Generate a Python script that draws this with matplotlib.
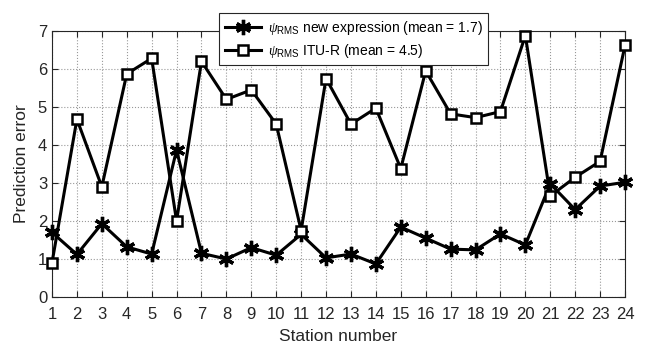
import numpy as np
import matplotlib.pyplot as plt

plt.rcParams['font.family'] = ['Liberation Sans', 'DejaVu Sans']
plt.rcParams['mathtext.fontset'] = 'custom'
plt.rcParams['mathtext.rm'] = 'Liberation Sans'
plt.rcParams['mathtext.it'] = 'Liberation Serif:italic'
plt.rcParams['mathtext.default'] = 'it'

stations = np.arange(1, 25)
psi_new = [1.70, 1.12, 1.93, 1.32, 1.13, 3.87, 1.15, 1.00, 1.30, 1.10, 1.65, 1.03,
           1.13, 0.87, 1.84, 1.55, 1.26, 1.24, 1.66, 1.37, 2.98, 2.30, 2.92, 3.02]
psi_itu = [0.90, 4.68, 2.90, 5.87, 6.28, 2.00, 6.20, 5.20, 5.45, 4.55, 1.75, 5.75,
           4.55, 4.97, 3.38, 5.95, 4.82, 4.72, 4.88, 6.88, 2.66, 3.15, 3.57, 6.62]

fig = plt.figure(figsize=(6.48, 3.49), dpi=100)
ax = fig.add_axes([52/648, 1 - 297/349, (625-52)/648, (297-31)/349])

ax.plot(stations, psi_new, color='black', lw=2.2, marker=(6, 2, 0), ms=11, mew=2.4,
        clip_on=False, zorder=3,
        label='$\u03c8_{\\mathrm{RMS}}$ new expression (mean = 1.7)')
ax.plot(stations, psi_itu, color='black', lw=2.2, marker='s', ms=7, mew=1.8,
        mfc='white', clip_on=False, zorder=3,
        label='$\u03c8_{\\mathrm{RMS}}$ ITU-R (mean = 4.5)')

ax.set_xlim(1, 24)
ax.set_ylim(0, 7)
ax.set_xticks(stations)
ax.set_yticks(range(0, 8))
ax.tick_params(direction='in', top=True, right=True, labelsize=12, length=4,
               colors='#262626')
ax.tick_params(axis='x', pad=7)
ax.grid(True, linestyle=':', color='#999999', lw=0.8)
for s in ax.spines.values():
    s.set_color('#262626')
ax.set_xlabel('Station number', fontsize=12.5, labelpad=5, color='#262626')
ax.set_ylabel('Prediction error', fontsize=12.5, labelpad=6, color='#262626')

leg = ax.legend(loc='upper center', bbox_to_anchor=(0.527, 1.092), fontsize=10,
                handlelength=2.6, handletextpad=0.5, framealpha=1, fancybox=False,
                edgecolor='#262626', borderpad=0.4, labelspacing=0.35)
leg.get_frame().set_linewidth(0.8)
leg.set_zorder(5)

fig.savefig('out.png', dpi=100)
